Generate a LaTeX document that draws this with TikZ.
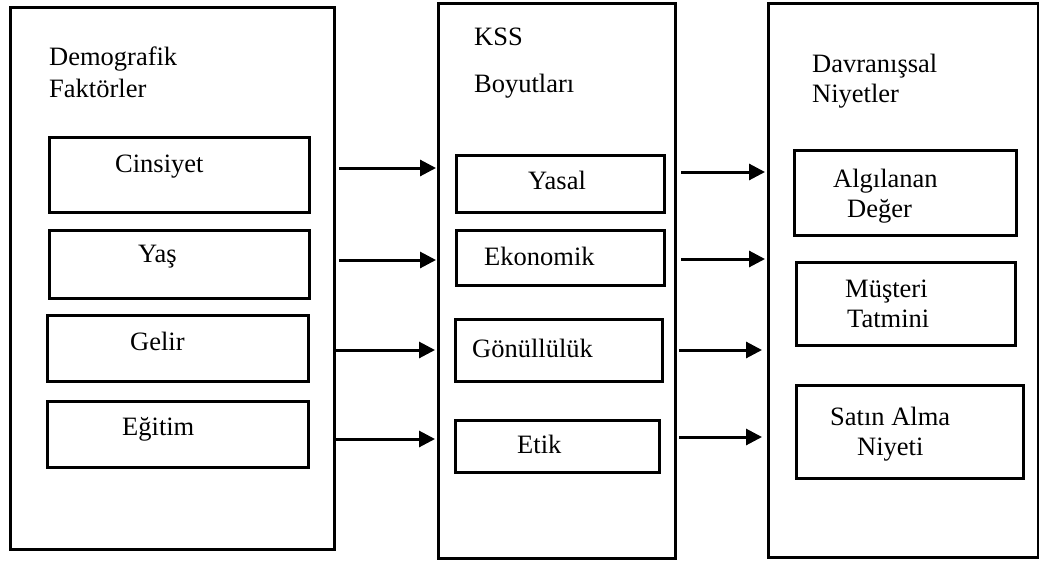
\documentclass[tikz,border=0pt]{standalone}
\usepackage{fontspec}
\setmainfont{Liberation Serif}
\usetikzlibrary{arrows.meta}
\tikzset{
  bigbox/.style={draw, line width=3pt, inner sep=0pt, anchor=north west},
  itembox/.style={draw, line width=3pt, inner sep=0pt, anchor=north west},
  txt/.style={font=\fontsize{26.5}{30}\selectfont, inner sep=0pt, anchor=base west},
  arr/.style={line width=3pt, -{Triangle[length=16pt,width=16pt]}}
}
\newcommand{\boxat}[5]{\node[#1, minimum width=#4pt, minimum height=#5pt] (#2) at #3 {};}
\begin{document}
\begin{tikzpicture}[x=1pt,y=-1pt]
\useasboundingbox[fill=white] (0,0) rectangle (1039,560);
% big frames
\boxat{bigbox}{demo}{(9,6)}{324}{542}
\boxat{bigbox}{kss}{(437,2)}{237}{555}
\boxat{bigbox}{dav}{(767,2)}{270}{554}
% left items
\boxat{itembox}{cins}{(48,136)}{260}{75}
\boxat{itembox}{yas}{(48,229)}{260}{68}
\boxat{itembox}{gel}{(46,314)}{261}{66}
\boxat{itembox}{egi}{(46,400)}{261}{66}
% middle items
\boxat{itembox}{yasal}{(455,154)}{208}{57}
\boxat{itembox}{eko}{(455,229)}{208}{55}
\boxat{itembox}{gon}{(454,318)}{207}{62}
\boxat{itembox}{etik}{(454,419)}{204}{52}
% right items
\boxat{itembox}{alg}{(793,149)}{222}{85}
\boxat{itembox}{mus}{(795,261)}{219}{83}
\boxat{itembox}{sat}{(795,384)}{227}{93}
% texts
\node[txt] (t-demo1) at (49,65) {Demografik};
\node[txt] (t-demo2) at (49,97) {Faktörler};
\node[txt] (t-cins) at (115,172) {Cinsiyet};
\node[txt] (t-yas) at (138,262) {Yaş};
\node[txt] (t-gel) at (130,350) {Gelir};
\node[txt] (t-egi) at (122,435) {Eğitim};
\node[txt] (t-kss1) at (474,45) {KSS};
\node[txt] (t-kss2) at (474,92) {Boyutları};
\node[txt] (t-yasal) at (528,189) {Yasal};
\node[txt] (t-eko) at (484,265) {Ekonomik};
\node[txt] (t-gon) at (472,357) {Gönüllülük};
\node[txt] (t-etik) at (517,453) {Etik};
\node[txt] (t-dav1) at (812,72) {Davranışsal};
\node[txt] (t-dav2) at (812,102) {Niyetler};
\node[txt] (t-alg1) at (833,187) {Algılanan};
\node[txt] (t-alg2) at (847,217) {Değer};
\node[txt] (t-mus1) at (845,297) {Müşteri};
\node[txt] (t-mus2) at (847,327) {Tatmini};
\node[txt] (t-sat1) at (830,425) {Satın Alma};
\node[txt] (t-sat2) at (857,455) {Niyeti};
% arrow starts
\coordinate (a1) at (339,168);
\coordinate (a2) at (339,260);
\coordinate (a3) at (336,350);
\coordinate (a4) at (336,439);
\coordinate (b1) at (681,172);
\coordinate (b2) at (681,259);
\coordinate (b3) at (679,350);
\coordinate (b4) at (679,437);
\draw[arr] (a1) -- ([xshift=-1pt]kss.west |- a1);
\draw[arr] (a2) -- ([xshift=-1pt]kss.west |- a2);
\draw[arr] (a3) -- ([xshift=-2pt]kss.west |- a3);
\draw[arr] (a4) -- ([xshift=-2pt]kss.west |- a4);
\draw[arr] (b1) -- ([xshift=-2pt]dav.west |- b1);
\draw[arr] (b2) -- ([xshift=-2pt]dav.west |- b2);
\draw[arr] (b3) -- ([xshift=-5pt]dav.west |- b3);
\draw[arr] (b4) -- ([xshift=-5pt]dav.west |- b4);
\end{tikzpicture}
\end{document}
